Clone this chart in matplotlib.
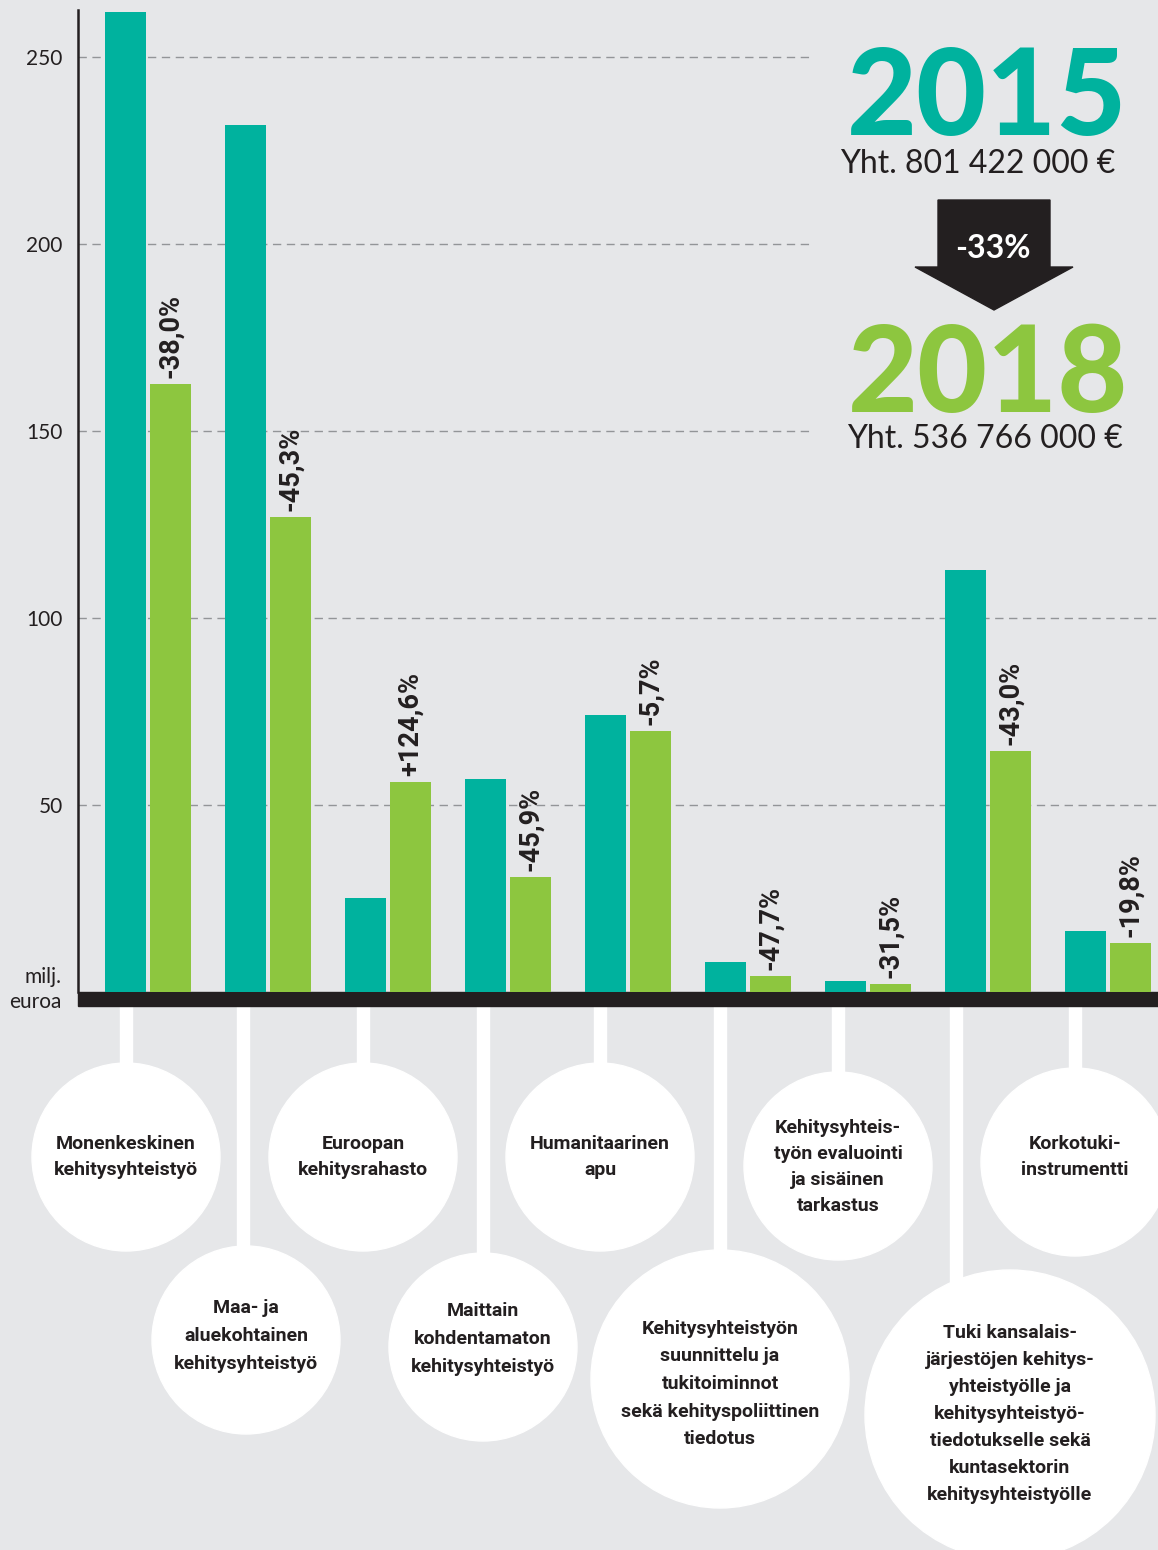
import numpy as np
import matplotlib
matplotlib.use('Agg')
import matplotlib.pyplot as plt
from matplotlib.patches import Circle, Polygon, Rectangle

# data (milj. euroa)
categories = ['Monenkeskinen\nkehitysyhteistyö',
              'Maa- ja\naluekohtainen\nkehitysyhteistyö',
              'Euroopan\nkehitysrahasto',
              'Maittain\nkohdentamaton\nkehitysyhteistyö',
              'Humanitaarinen\napu',
              'Kehitysyhteistyön\nsuunnittelu ja\ntukitoiminnot\nsekä kehityspoliittinen\ntiedotus',
              'Kehitysyhteis-\ntyön evaluointi\nja sisäinen\ntarkastus',
              'Tuki kansalais-\njärjestöjen kehitys-\nyhteistyölle ja\nkehitysyhteistyö-\ntiedotukselle sekä\nkuntasektorin\nkehitysyhteistyölle',
              'Korkotuki-\ninstrumentti']
values_2015 = [262.0, 231.8, 25.1, 57.0, 74.1, 8.0, 2.9, 112.8, 16.4]
values_2018 = [162.6, 127.0, 56.1, 30.7, 69.8, 4.3, 2.1, 64.4, 13.0]
change_labels = ['-38,0%', '-45,3%', '+124,6%', '-45,9%', '-5,7%',
                 '-47,7%', '-31,5%', '-43,0%', '-19,8%']
yticks = [50, 100, 150, 200, 250]
total_2015 = 'Yht. 801 422 000 €'
total_2018 = 'Yht. 536 766 000 €'
total_change = '-33%'

TEAL = '#00b29e'
GREEN = '#8dc63f'
BG = '#e6e7e9'
DARK = '#231f20'
NARROW = ['Roboto', 'DejaVu Sans']
REG = ['Lato', 'DejaVu Sans']

W, H = 1158, 1550
fig = plt.figure(figsize=(W / 100, H / 100), dpi=100, facecolor=BG)

# overlay in pixel units for the decorations
bg = fig.add_axes([0, 0, 1, 1], zorder=0)
bg.set_xlim(0, W)
bg.set_ylim(H, 0)
bg.axis('off')
bg.patch.set_alpha(0)

# bar axes: left edge x=78px, zero line at y=992px, top at y=10px
x0, y0, ytop = 78, 992, 10
ax = fig.add_axes([x0 / W, (H - y0) / H, (W - x0) / W, (y0 - ytop) / H], zorder=1)
ax.patch.set_alpha(0)
ax.set_ylim(0, (y0 - ytop) / 3.74)
ax.set_xlim(-(148 - x0) / 120, (W - 148) / 120)

x = np.arange(len(categories))
bw = 41 / 120
off = 22.5 / 120
ax.bar(x - off, values_2015, bw, color=TEAL, zorder=3)
ax.bar(x + off, values_2018, bw, color=GREEN, zorder=3)

for xi, v, lab in zip(x, values_2018, change_labels):
    ax.annotate(lab, (xi + off, v), xytext=(0, 4.5), textcoords='offset points',
                rotation=90, ha='center', va='bottom', fontsize=19.5,
                fontweight='bold', family=NARROW, color=DARK, zorder=4)

# dashed grid, shorter where the totals sit
for yv in yticks:
    xmax = 1.0 if yv <= 100 else (810 - x0) / (W - x0)
    ax.axhline(yv, xmin=0, xmax=xmax, color='#939598', lw=1.0,
               dashes=(6, 4), zorder=1)

for s in ['top', 'right', 'bottom']:
    ax.spines[s].set_visible(False)
ax.spines['left'].set_linewidth(1.8)
ax.spines['left'].set_color(DARK)
ax.set_xticks([])
ax.set_yticks(yticks)
ax.tick_params(axis='y', length=0, pad=11, labelsize=15, labelcolor=DARK)
for t in ax.get_yticklabels():
    t.set_family(REG)

bg.text(62, 983, 'milj.', ha='right', va='baseline', fontsize=15, family=REG, color=DARK)
bg.text(62, 1008, 'euroa', ha='right', va='baseline', fontsize=15, family=REG, color=DARK)

# label bubbles: centre x, centre y, radius, connector x, text line spacing
bub_x = [126, 246, 363, 483, 600, 720, 838, 1010, 1075]
bub_y = [1157, 1340, 1157, 1347, 1157, 1379, 1166, 1415, 1162]
bub_r = [94, 94, 94, 94, 94, 129, 94, 145, 94]
line_x = [126, 243, 363, 483, 600, 720, 838, 956, 1075]
bub_ls = [1.55, 1.68, 1.55, 1.68, 1.55, 1.68, 1.55, 1.65, 1.55]
text_y = [1157, 1336, 1157, 1339, 1157, 1384, 1167, 1414, 1157]

for cx, cy, r, lx, ls, ty, lab in zip(bub_x, bub_y, bub_r, line_x, bub_ls, text_y, categories):
    bg.add_patch(Rectangle((lx - 6, 1000), 12, cy - 1000, color='white', zorder=1))
    bg.add_patch(Circle((cx, cy), r, color='white', zorder=2))
    bg.text(cx, ty, lab, ha='center', va='center', fontsize=14, fontweight='bold',
            family=NARROW, color=DARK, linespacing=ls, zorder=3)

# black base bar
bg.add_patch(Rectangle((x0, y0), W - x0, 14, color=DARK, zorder=4))

# totals and arrow
bg.text(987, 135, '2015', ha='center', va='baseline', fontsize=87,
        fontweight='black', family=REG, color=TEAL)
bg.text(978, 173, total_2015, ha='center', va='baseline', fontsize=23,
        family=REG, color=DARK)
bg.add_patch(Polygon([(938, 200), (1050, 200), (1050, 267), (1073, 267),
                      (994, 310), (915, 267), (938, 267)], closed=True,
                     color=DARK, zorder=2))
bg.text(993, 249, total_change, ha='center', va='center', fontsize=23,
        fontweight='bold', family=REG, color='white', zorder=3)
bg.text(988, 412, '2018', ha='center', va='baseline', fontsize=87,
        fontweight='black', family=REG, color=GREEN)
bg.text(985, 448, total_2018, ha='center', va='baseline', fontsize=23,
        family=REG, color=DARK)

plt.savefig('out.png', dpi=100, facecolor=BG)
